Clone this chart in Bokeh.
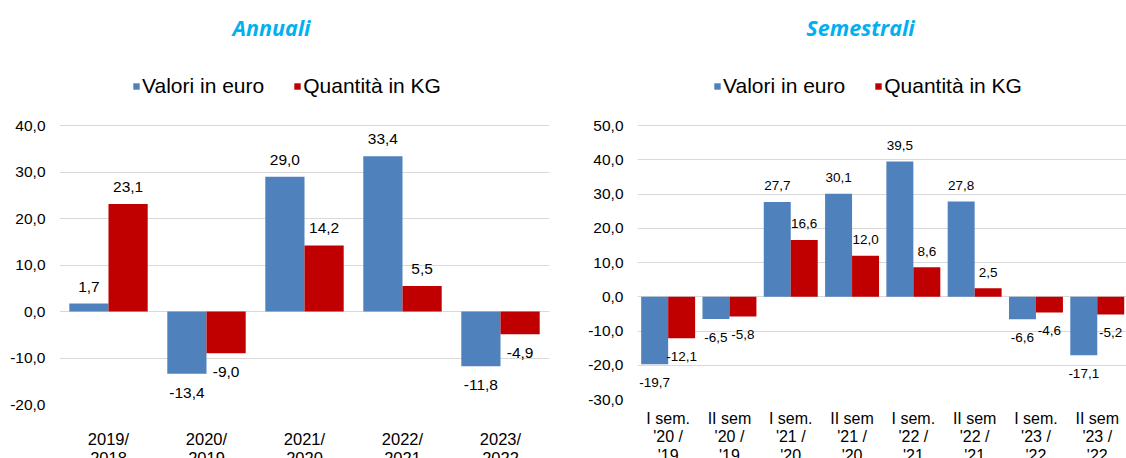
import numpy as np
from bokeh.plotting import figure
from bokeh.models import (ColumnDataSource, Range1d, FixedTicker, LabelSet, Label,
                          Legend, LegendItem)
from bokeh.transform import dodge
from bokeh.layouts import row
from bokeh.embed import file_html
from bokeh.resources import INLINE
from bokeh.core.properties import value

# ---------------- data ----------------
annual_categories = ["2019/\n2018", "2020/\n2019", "2021/\n2020", "2022/\n2021", "2023/\n2022"]
annual_valori = [1.7, -13.4, 29.0, 33.4, -11.8]
annual_quantita = [23.1, -9.0, 14.2, 5.5, -4.9]
annual_yticks = [-20, -10, 0, 10, 20, 30, 40]

sem_categories = ["I sem.\n'20 /\n'19", "II sem\n'20 /\n'19",
                  "I sem.\n'21 /\n'20", "II sem\n'21 /\n'20",
                  "I sem.\n'22 /\n'21", "II sem\n'22 /\n'21",
                  "I sem.\n'23 /\n'22", "II sem\n'23 /\n'22"]
sem_valori = [-19.7, -6.5, 27.7, 30.1, 39.5, 27.8, -6.6, -17.1]
sem_quantita = [-12.1, -5.8, 16.6, 12.0, 8.6, 2.5, -4.6, -5.2]
sem_yticks = [-30, -20, -10, 0, 10, 20, 30, 40, 50]

series_names = ["Valori in euro", "Quantità in KG"]

BLUE = "#4F81BD"
RED = "#C00000"
TITLE_BLUE = "#00B0F0"
GRID = "#D9D9D9"
FONT = "Liberation Sans"

PLOT_TOP = 125      # pixel row of the top gridline (space above holds title + legend)


def fmt(v):
    return f"{v:.1f}".replace(".", ",")


def make_chart(title, cats, valori, quantita, yticks, width, frame_w, plot_h,
               b_left, x_end, bar_w, lab_size, up_off, down_off,
               x_standoff, x_size, title_x, legend_x, legend_spacing):
    n = len(cats)
    idx = list(range(n))
    ymin, ymax = min(yticks), max(yticks)
    frame_h = PLOT_TOP + plot_h
    y_top = ymax + PLOT_TOP * (ymax - ymin) / plot_h
    src = ColumnDataSource(dict(
        x=idx, valori=valori, quantita=quantita,
        lab_v=[fmt(v) for v in valori], lab_q=[fmt(v) for v in quantita],
        off_v=[up_off if v >= 0 else down_off for v in valori],
        off_q=[up_off if v >= 0 else down_off for v in quantita],
    ))
    p = figure(frame_width=frame_w, frame_height=frame_h,
               x_range=Range1d(-0.5, x_end),
               y_range=Range1d(ymin, y_top),
               output_backend="svg", toolbar_location=None,
               min_border_left=b_left, min_border_right=width - b_left - frame_w,
               min_border_top=0, min_border_bottom=0)
    p.outline_line_color = None
    p.background_fill_color = "white"
    p.border_fill_color = "white"

    rv = p.vbar(x=dodge("x", -bar_w / 2), top="valori", width=bar_w,
                source=src, fill_color=BLUE, line_color=None)
    rq = p.vbar(x=dodge("x", bar_w / 2), top="quantita", width=bar_w,
                source=src, fill_color=RED, line_color=None)

    for col, lab, off in (("valori", "lab_v", "off_v"), ("quantita", "lab_q", "off_q")):
        sign = -1 if col == "valori" else 1
        ls = LabelSet(x=dodge("x", sign * bar_w / 2), y=col, text=lab,
                      y_offset=off, source=src, text_align="center",
                      text_baseline="middle", text_font=value(FONT),
                      text_font_size=value(lab_size), text_color="#000000")
        p.add_layout(ls)

    # axes
    p.yaxis.ticker = FixedTicker(ticks=yticks)
    p.yaxis.major_label_overrides = {t: fmt(t) for t in yticks}
    p.ygrid.ticker = FixedTicker(ticks=yticks)
    p.ygrid.grid_line_color = GRID
    p.ygrid.grid_line_width = 1
    p.xgrid.visible = False
    p.xaxis.ticker = FixedTicker(ticks=idx)
    p.xaxis.major_label_overrides = {i: c for i, c in zip(idx, cats)}
    for ax in (p.xaxis, p.yaxis):
        ax.axis_line_color = None
        ax.major_tick_line_color = None
        ax.minor_tick_line_color = None
        ax.major_tick_out = 0
        ax.major_label_text_font = FONT
        ax.major_label_text_color = "#000000"
    p.yaxis.major_label_text_font_size = "15.5px"
    p.xaxis.major_label_text_font_size = x_size
    p.xaxis.major_label_text_line_height = 1.1
    p.yaxis.major_label_standoff = 14
    p.xaxis.major_label_standoff = x_standoff

    # title (in the space above the top gridline)
    p.add_layout(Label(x=title_x, y=frame_h - 27, x_units="screen", y_units="screen",
                       text=title, text_align="center", text_baseline="middle",
                       text_font="Open Sans", text_font_style="bold italic",
                       text_font_size="21.5px", text_color=TITLE_BLUE))
    # legend
    legend = Legend(items=[LegendItem(label=series_names[0], renderers=[rv]),
                           LegendItem(label=series_names[1], renderers=[rq])],
                    orientation="horizontal", location=(legend_x, frame_h - 98),
                    glyph_width=8, glyph_height=8, label_height=24,
                    label_standoff=2, spacing=legend_spacing,
                    padding=0, margin=0, border_line_color=None,
                    background_fill_alpha=0, label_text_font=FONT,
                    label_text_font_size="21px", label_text_color="#000000")
    p.add_layout(legend)
    return p


p1 = make_chart("Annuali", annual_categories, annual_valori, annual_quantita,
                annual_yticks, width=560, frame_w=490, plot_h=279, b_left=59,
                x_end=4.5, bar_w=0.40, lab_size="15.5px",
                up_off=17, down_off=-19, x_standoff=25, x_size="16.5px",
                title_x=212, legend_x=73, legend_spacing=29)
p2 = make_chart("Semestrali", sem_categories, sem_valori, sem_quantita,
                sem_yticks, width=566, frame_w=489, plot_h=274, b_left=77,
                x_end=7.477, bar_w=0.44, lab_size="13.5px",
                up_off=16, down_off=-18, x_standoff=10, x_size="16px",
                title_x=223, legend_x=76, legend_spacing=29)

# the reference is cropped at the bottom: clip the row to the window height
layout = row(p1, p2, styles={"max-height": "458px", "overflow": "hidden"})

open("out.html", "w").write(file_html(layout, INLINE))
